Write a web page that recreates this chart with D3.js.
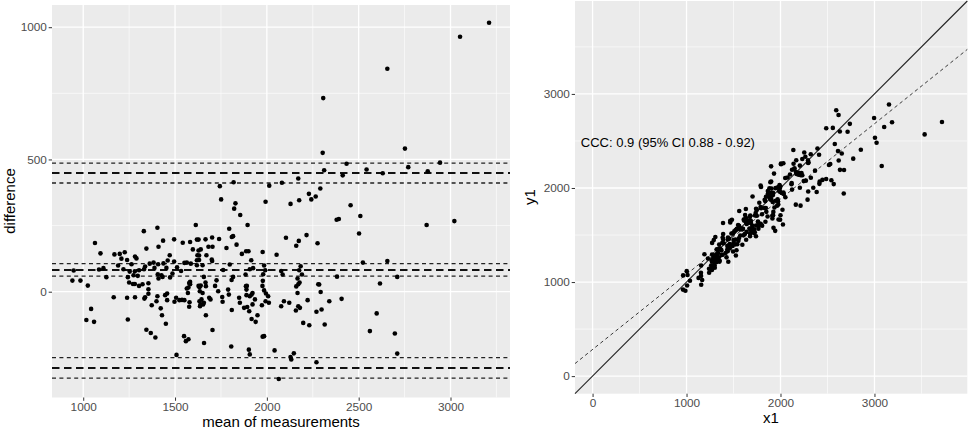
<!DOCTYPE html>
<html>
<head>
<meta charset="utf-8">
<script src="https://cdn.jsdelivr.net/npm/d3@7"></script>
<style>
  body { margin: 0; background: #fff; }
  #svg-container { width: 975px; height: 433px; }
  text { font-family: "Liberation Sans", Arial, sans-serif; }
</style>
</head>
<body>
<div id="svg-container"></div>
<script>
////////////////////////////////////////////////////////////////////
////////////////////////////  Data  ////////////////////////////////
// Bland-Altman: mean of the two measurements and their difference (x1 - y1)
const meanVals = [
  3210, 3052, 2656, 2307, 2752, 2304, 2943, 2434, 2312, 2543, 2631, 2770, 2876, 2413, 2456,
  1744, 1751, 1819, 1829, 1822, 1855, 1993, 2013, 2082, 2129, 2171, 2176, 2229, 2242, 2266,
  2291, 2380, 2392, 2509, 2502, 2870, 3021, 2523, 2656, 2710, 2616,
  1795, 1895, 1809, 1816, 1666, 1702, 1740, 1835, 1780, 1682, 1704, 1640, 1671, 1700, 1702,
  1864, 1887, 1900, 1915, 1977, 2053, 2104, 2160, 2174, 2216, 2276, 1650, 1798, 1985, 2184,
  1907, 1925, 1762, 1991, 2078, 2176, 1884, 1980, 2086, 2191, 2382, 1816, 1657, 2167, 2178,
  1726, 1808, 1978, 1891, 1976, 2160, 2171, 2280, 1718, 1666,
  1330, 1404, 1613, 1064, 1094, 1344, 1410, 1435, 1495, 1542, 1582, 1619, 1628, 1597, 1628,
  1170, 1199, 1226, 1208, 1239, 1282, 1290, 1263, 1190, 1219, 1110, 1086, 948, 1126, 1253,
  1281, 1304, 1337, 1362, 1383, 1408, 1437, 1460, 1471, 1495, 1551, 1564, 1388, 1453, 1331,
  1243, 1274, 1297, 1406, 1432, 1486, 1511, 1622, 1631, 1619, 1631, 1586, 1619, 1533, 941,
  985, 1025, 1250, 1271, 1281, 1304, 1323, 1355, 1410, 1426, 1473, 1573, 1582, 1628,
  1166, 1239, 1282, 1355, 1355, 1333, 1337, 1373, 1404, 1399, 1446, 1457, 1457, 1422, 1429,
  1450, 1497, 1506, 1524, 1538, 1551, 1564, 1570, 1577, 1582, 1579, 1577, 1633, 1640, 1633,
  1636, 1549, 1559, 1573, 1508, 1344, 1368, 1393, 1043, 1017, 1059, 1243,
  1635, 1650, 1644, 1657, 1639, 1653, 1686, 1693, 1668, 1735, 1757, 1759, 1789, 1793, 1809,
  1668, 1704, 1658, 1849, 1853, 1886, 1889, 1889, 1876, 1893, 1907, 1917, 1904, 1922, 1935,
  1922, 1917, 1939, 1949, 1973, 1985, 1995, 2007, 1993, 2011, 1977, 1985, 1806, 1902, 1907,
  2078, 2093, 2122, 2171, 2180, 2158, 2167, 2285, 2293, 2198, 2222, 2231, 2270, 2298, 2315,
  2340, 2407, 2042, 2133, 2129, 2147, 2065, 2270,
  2598, 2561, 2697, 2710
];
const diffVals = [
  1017, 964, 843, 732, 541, 525, 488, 484, 459, 462, 448, 471, 455, 440, 327,
  399, 349, 414, 334, 314, 290, 340, 401, 412, 332, 428, 346, 370, 349, 360,
  390, 272, 275, 286, 220, 252, 267, 110, 116, 56, 31,
  238, 252, 207, 210, 198, 205, 199, 178, 165, 170, 170, 160, 138, 122, 116,
  143, 153, 153, 119, 150, 140, 204, 174, 192, 214, 183, 100, 103, 99, 96,
  85, 89, 82, 81, 78, 81, 65, 66, 65, 65, 57, 56, 56, 50, 35,
  43, 44, 41, 22, 22, 20, 28, 28, 22, 35,
  229, 242, 252, 184, 145, 163, 170, 193, 198, 185, 188, 197, 197, 160, 156,
  141, 143, 149, 125, 120, 133, 126, 104, 99, 85, 89, 84, 80, 55, 76,
  77, 81, 95, 106, 110, 104, 107, 118, 138, 114, 109, 110, 90, 90, 85,
  55, 62, 60, 66, 56, 69, 92, 138, 137, 119, 120, 106, 100, 78, 42,
  42, 23, 35, 29, 29, 22, 28, 32, 50, 62, 54, 16, 28, 22,
  -21, -23, -21, 9, -8, -26, -21, -51, -17, -36, -13, -7, -32, -63, -89,
  -121, -38, -23, -32, -31, -32, 12, -5, 33, 37, -40, -57, 17, 23, -36,
  -55, -168, -187, -180, -239, -144, -156, -173, -65, -107, -114, -105,
  2, -5, -29, -42, -48, -48, -23, -29, 21, 2, -20, -38, 8, -11, -69,
  -89, -145, -194, -23, -42, 21, 8, -13, -61, -58, -17, -11, -74, -48, -29,
  -5, -103, -114, -89, -51, 5, -7, -17, -36, -42, -170, -168, -207, -219, -237,
  -55, -36, -42, -55, -61, -71, -5, 27, -1, -118, -32, -127, -76, -67, -124,
  -36, -27, -222, -256, -247, -233, -330, -267,
  -82, -149, -158, -234
];

// horizontal reference lines (bias and limits of agreement, each with its CI)
const mainLines = [449, 82, -288];
const ciLines = [486, 411, 106, 59, -249, -327];

// concordance panel
const regIntercept = 283;
const regSlope = 0.8;
const cccLabel = "CCC: 0.9 (95% CI 0.88 - 0.92)";

// ticks
const xTicksL = [1000, 1500, 2000, 2500, 3000];
const xMinorL = [1250, 1750, 2250, 2750, 3250];
const yTicksL = [0, 500, 1000];
const yMinorL = [-250, 250, 750];
const ticksR = [0, 1000, 2000, 3000];
const minorR = [500, 1500, 2500, 3500];

////////////////////////////////////////////////////////////////////
////////////////////////////  Init  ////////////////////////////////
const svg = d3.select("#svg-container").append("svg")
  .attr("width", 975).attr("height", 433);

const points = meanVals.map((m, i) => ({
  mean: m,
  diff: diffVals[i],
  x1: m + diffVals[i] / 2,
  y1: m - diffVals[i] / 2
}));

const fmt = d3.format("d");

// scales
const xL = d3.scaleLinear().domain([830, 3324]).range([52, 510]);
const yL = d3.scaleLinear().domain([-400, 1084]).range([397.5, 5]);
const xR = d3.scaleLinear().domain([-187, 3988]).range([575, 967.3]);
const yR = d3.scaleLinear().domain([-187, 3988]).range([393.7, 1]);

function panel(x, y, xMajor, xMinor, yMajor, yMinor) {
  const g = svg.append("g");
  const [x0, x1] = x.range();
  const [y0, y1] = y.range();
  g.append("rect")
    .attr("x", x0).attr("y", y1)
    .attr("width", x1 - x0).attr("height", y0 - y1)
    .attr("fill", "#EBEBEB");
  g.selectAll(".vminor").data(xMinor).enter().append("line")
    .attr("x1", (d) => x(d)).attr("x2", (d) => x(d))
    .attr("y1", y0).attr("y2", y1)
    .attr("stroke", "#fff").attr("stroke-width", 0.6);
  g.selectAll(".hminor").data(yMinor).enter().append("line")
    .attr("y1", (d) => y(d)).attr("y2", (d) => y(d))
    .attr("x1", x0).attr("x2", x1)
    .attr("stroke", "#fff").attr("stroke-width", 0.6);
  g.selectAll(".vmajor").data(xMajor).enter().append("line")
    .attr("x1", (d) => x(d)).attr("x2", (d) => x(d))
    .attr("y1", y0).attr("y2", y1)
    .attr("stroke", "#fff").attr("stroke-width", 1.3);
  g.selectAll(".hmajor").data(yMajor).enter().append("line")
    .attr("y1", (d) => y(d)).attr("y2", (d) => y(d))
    .attr("x1", x0).attr("x2", x1)
    .attr("stroke", "#fff").attr("stroke-width", 1.3);

  // axes
  const ax = g.append("g")
    .attr("transform", `translate(0,${y0})`)
    .call(d3.axisBottom(x).tickValues(xMajor).tickFormat(fmt).tickSize(3.3).tickPadding(1.6));
  const ay = g.append("g")
    .attr("transform", `translate(${x0},0)`)
    .call(d3.axisLeft(y).tickValues(yMajor).tickFormat(fmt).tickSize(3.3).tickPadding(1.8));
  [ax, ay].forEach((a) => {
    a.select(".domain").remove();
    a.selectAll(".tick line").attr("stroke", "#333").attr("stroke-width", 1);
    a.selectAll(".tick text")
      .attr("fill", "#4D4D4D")
      .style("font-size", "11.8px")
      .style("font-family", "Liberation Sans, Arial, sans-serif");
  });
  return g;
}

////////////////////////////////////////////////////////////////////
////////////////////////////  Left: Bland-Altman  //////////////////
const left = panel(xL, yL, xTicksL, xMinorL, yTicksL, yMinorL);

left.selectAll(".ci").data(ciLines).enter().append("line")
  .attr("x1", 52).attr("x2", 510)
  .attr("y1", (d) => yL(d)).attr("y2", (d) => yL(d))
  .attr("stroke", "#222").attr("stroke-width", 1.3)
  .attr("stroke-dasharray", "4,3.4");

left.selectAll(".main").data(mainLines).enter().append("line")
  .attr("x1", 52).attr("x2", 510)
  .attr("y1", (d) => yL(d)).attr("y2", (d) => yL(d))
  .attr("stroke", "#111").attr("stroke-width", 2)
  .attr("stroke-dasharray", "7.5,4.5");

left.selectAll(".pt").data(points).enter().append("circle")
  .attr("cx", (d) => xL(d.mean))
  .attr("cy", (d) => yL(d.diff))
  .attr("r", 2.3)
  .attr("fill", "#000");

svg.append("text")
  .attr("x", 281).attr("y", 427)
  .attr("text-anchor", "middle")
  .style("font-size", "15px")
  .text("mean of measurements");

svg.append("text")
  .attr("transform", "translate(15,201) rotate(-90)")
  .attr("text-anchor", "middle")
  .style("font-size", "15px")
  .text("difference");

////////////////////////////////////////////////////////////////////
////////////////////////////  Right: concordance  //////////////////
const right = panel(xR, yR, ticksR, minorR, ticksR, minorR);
const [dLo, dHi] = xR.domain();

right.append("line")
  .attr("x1", xR(dLo)).attr("y1", yR(dLo))
  .attr("x2", xR(dHi)).attr("y2", yR(dHi))
  .attr("stroke", "#222").attr("stroke-width", 1.1);

right.append("line")
  .attr("x1", xR(dLo)).attr("y1", yR(regIntercept + regSlope * dLo))
  .attr("x2", xR(dHi)).attr("y2", yR(regIntercept + regSlope * dHi))
  .attr("stroke", "#3a3a3a").attr("stroke-width", 1)
  .attr("stroke-dasharray", "3.5,3");

right.selectAll(".pt").data(points).enter().append("circle")
  .attr("cx", (d) => xR(d.x1))
  .attr("cy", (d) => yR(d.y1))
  .attr("r", 2.3)
  .attr("fill", "#000");

right.append("text")
  .attr("x", xR(-125)).attr("y", yR(2480))
  .attr("dy", "0.35em")
  .style("font-size", "13px")
  .text(cccLabel);

svg.append("text")
  .attr("x", 771).attr("y", 423.3)
  .attr("text-anchor", "middle")
  .style("font-size", "15px")
  .text("x1");

svg.append("text")
  .attr("transform", "translate(535,197) rotate(-90)")
  .attr("text-anchor", "middle")
  .style("font-size", "15px")
  .text("y1");
</script>
</body>
</html>
